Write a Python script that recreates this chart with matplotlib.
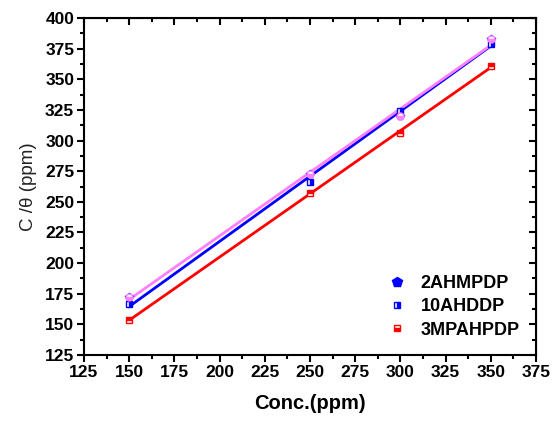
import numpy as np
import matplotlib
matplotlib.use("Agg")
import matplotlib.pyplot as plt
from matplotlib.ticker import MultipleLocator
from matplotlib.lines import Line2D

conc = [150, 250, 300, 350]
s_2ahmpdp = [172.5, 272.5, 320, 383]
s_10ahddp = [166.5, 266.5, 324.5, 379]
s_3mpahpdp = [153.5, 257, 306, 361]
names = ["2AHMPDP", "10AHDDP", "3MPAHPDP"]

plt.rcParams['font.family'] = ['Liberation Sans', 'DejaVu Sans']
fig = plt.figure(figsize=(5.52, 4.21), dpi=100)
ax = fig.add_axes([0.152, 0.157, 0.819, 0.800])

x = np.array(conc, dtype=float)
xf = np.array([150, 350], dtype=float)

def fit(y):
    p = np.polyfit(x, y, 1)
    return np.polyval(p, xf)

ax.plot(xf, fit(s_10ahddp), color='#0000ff', lw=2, zorder=2)
ax.plot(xf, fit(s_3mpahpdp), color='#ff0000', lw=2, zorder=2)
ax.plot(xf, fit(s_2ahmpdp), color='#ff80ff', lw=2, zorder=2)

ax.plot(x, s_2ahmpdp, ls='none', marker='p', ms=6, color='#0000ff', zorder=3)
ax.plot(x, s_2ahmpdp, ls='none', marker='o', ms=5, mfc='#ff80ff', mec='#ff80ff', fillstyle='bottom', markerfacecoloralt='white', zorder=4)
ax.plot(x, s_10ahddp, ls='none', marker='s', ms=5, color='#0000ff', fillstyle='right', markerfacecoloralt='white', zorder=3)
ax.plot(x, s_3mpahpdp, ls='none', marker='s', ms=5, color='#ff0000', fillstyle='top', markerfacecoloralt='white', zorder=3)

ax.set_xlim(125, 375)
ax.set_ylim(125, 400)
ax.xaxis.set_major_locator(MultipleLocator(25))
ax.xaxis.set_minor_locator(MultipleLocator(12.5))
ax.yaxis.set_major_locator(MultipleLocator(25))
ax.yaxis.set_minor_locator(MultipleLocator(12.5))
ax.tick_params(which='both', direction='out', width=1.5, labelsize=12.5, pad=2)
ax.tick_params(which='major', length=5)
ax.tick_params(which='minor', length=3)
for sp in ax.spines.values():
    sp.set_linewidth(1.5)

axt = ax.secondary_xaxis('top')
axt.xaxis.set_major_locator(MultipleLocator(25))
axt.xaxis.set_minor_locator(MultipleLocator(12.5))
axt.tick_params(which='both', direction='in', width=1.5, labeltop=False)
axt.tick_params(which='major', length=5)
axt.tick_params(which='minor', length=3)
axr = ax.secondary_yaxis('right')
axr.yaxis.set_major_locator(MultipleLocator(25))
axr.yaxis.set_minor_locator(MultipleLocator(12.5))
axr.tick_params(which='both', direction='in', width=1.5, labelright=False)
axr.tick_params(which='major', length=5)
axr.tick_params(which='minor', length=3)

ax.set_xlabel("Conc.(ppm)", fontsize=14.5, fontweight='bold', labelpad=10)
ax.set_ylabel("C /θ (ppm)", fontsize=13.5, fontweight='normal', labelpad=6, color='#222222')

handles = [
    Line2D([], [], ls='none', marker='p', ms=7, color='#0000ff'),
    Line2D([], [], ls='none', marker='s', ms=5, color='#0000ff', fillstyle='right', markerfacecoloralt='white'),
    Line2D([], [], ls='none', marker='s', ms=5, color='#ff0000', fillstyle='bottom', markerfacecoloralt='white'),
]
ax.legend(handles, names, loc='lower right', frameon=False, prop={'weight': 'bold', 'size': 13},
          handletextpad=0.7, labelspacing=0.35, bbox_to_anchor=(1.0, 0.0), handlelength=1.2)

fig.canvas.draw()
for lab in ax.get_xticklabels() + ax.get_yticklabels():
    lab.set_fontweight('bold')
fig.savefig("out.png", dpi=100)
